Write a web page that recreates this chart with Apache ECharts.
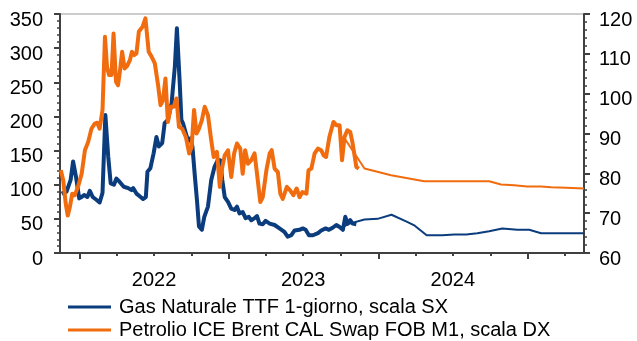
<!DOCTYPE html>
<html>
<head>
<meta charset="utf-8">
<script src="https://cdn.jsdelivr.net/npm/echarts@6/dist/echarts.min.js"></script>
<style>
  html, body { margin: 0; padding: 0; background: #fff; }
  #chart { width: 637px; height: 341px; }
</style>
</head>
<body>
<div id="chart"></div>
<script>
// Gas Naturale TTF 1-giorno (EUR/MWh, left scale): daily history
const gasDates = ['2021-11-17','2021-11-29','2021-12-09','2021-12-15','2021-12-22','2021-12-30','2022-01-05','2022-01-11','2022-01-19','2022-01-25','2022-02-01','2022-02-10','2022-02-18','2022-02-25','2022-03-04','2022-03-11','2022-03-17','2022-03-25','2022-03-31','2022-04-08','2022-04-18','2022-04-29','2022-05-07','2022-05-11','2022-05-19','2022-05-27','2022-06-04','2022-06-11','2022-06-15','2022-06-22','2022-06-30','2022-07-07','2022-07-13','2022-07-21','2022-07-27','2022-08-04','2022-08-13','2022-08-21','2022-08-26','2022-09-02','2022-09-06','2022-09-10','2022-09-17','2022-09-22','2022-09-28','2022-10-03','2022-10-09','2022-10-14','2022-10-19','2022-10-26','2022-11-01','2022-11-10','2022-11-18','2022-11-26','2022-12-04','2022-12-10','2022-12-15','2022-12-21','2022-12-29','2023-01-06','2023-01-14','2023-01-20','2023-01-26','2023-02-03','2023-02-10','2023-02-18','2023-02-24','2023-03-04','2023-03-10','2023-03-16','2023-03-24','2023-03-31','2023-04-10','2023-04-22','2023-05-04','2023-05-16','2023-05-24','2023-06-02','2023-06-10','2023-06-22','2023-06-30','2023-07-07','2023-07-15','2023-07-25','2023-08-06','2023-08-14','2023-08-25','2023-09-02','2023-09-11','2023-09-20','2023-09-28','2023-10-06','2023-10-12','2023-10-18','2023-10-24','2023-10-30','2023-11-08'];
const gasValues = [87,90,107,134,112,80,82,85,82,91,82,78,74,88,202,141,102,100,109,104,97,95,92,95,87,83,79,82,119,124,146,170,156,161,190,195,219,273,329,248,195,190,175,165,168,156,112,78,39,34,53,68,107,126,136,136,107,82,75,65,63,68,58,60,51,53,48,51,54,43,42,47,43,41,36,31,24,26,33,34,36,34,26,26,29,33,36,34,37,41,38,34,53,43,48,43,42];

// Gas forward curve
const gasFwdDates = ['2023-10-05','2023-10-22','2023-11-28','2023-12-30','2024-02-02','2024-03-10','2024-03-30','2024-04-28','2024-06-05','2024-07-05','2024-08-03','2024-08-30','2024-09-28','2024-10-30','2024-12-06','2025-01-04','2025-02-02','2025-02-22','2025-05-18'];
const gasFwdValues = [38,43,49,50,56,46,40,26,26,27,27,29,32,36,34,34,29,29,29];

// Petrolio ICE Brent CAL Swap FOB M1 (USD/barile, right scale): history
const brentDates = ['2021-11-15','2021-11-21','2021-11-27','2021-12-02','2021-12-07','2021-12-13','2021-12-19','2021-12-27','2022-01-05','2022-01-13','2022-01-21','2022-01-29','2022-02-06','2022-02-12','2022-02-18','2022-02-25','2022-03-03','2022-03-08','2022-03-13','2022-03-19','2022-03-24','2022-03-30','2022-04-04','2022-04-08','2022-04-14','2022-04-20','2022-04-26','2022-05-03','2022-05-08','2022-05-14','2022-05-19','2022-05-25','2022-06-03','2022-06-10','2022-06-18','2022-06-25','2022-07-03','2022-07-11','2022-07-17','2022-07-23','2022-07-29','2022-08-04','2022-08-11','2022-08-18','2022-08-25','2022-08-31','2022-09-08','2022-09-17','2022-09-25','2022-10-01','2022-10-07','2022-10-13','2022-10-19','2022-10-26','2022-11-02','2022-11-10','2022-11-18','2022-11-24','2022-12-02','2022-12-09','2022-12-15','2022-12-21','2022-12-29','2023-01-06','2023-01-13','2023-01-20','2023-01-28','2023-02-03','2023-02-09','2023-02-16','2023-02-24','2023-03-04','2023-03-10','2023-03-18','2023-03-24','2023-04-02','2023-04-10','2023-04-15','2023-04-22','2023-04-30','2023-05-06','2023-05-12','2023-05-22','2023-05-30','2023-06-07','2023-06-15','2023-06-22','2023-06-29','2023-07-09','2023-07-14','2023-07-21','2023-07-29','2023-08-06','2023-08-14','2023-08-20','2023-08-26','2023-09-03','2023-09-13','2023-09-20','2023-09-28','2023-10-04','2023-10-10','2023-10-17','2023-10-24','2023-10-30','2023-11-08','2023-11-14'];
const brentValues = [80.8,78.2,72.4,69.4,71.5,74.9,74.5,76.6,79.9,85.8,87.9,91.2,92.5,92.7,91.2,95.9,114.3,106.7,104.7,104.7,115.1,103,102.1,105.1,110.5,106.3,106.9,108.4,110.5,109.7,110.1,115.6,116.8,118.9,110.5,109.3,107.6,102.1,97.1,98.4,103.8,92.9,96.7,96.7,98.8,91.7,91.2,89.1,85,86.6,95.9,90,91.2,93.3,96.7,94.6,88.3,84.1,85.4,76.6,81.6,84.5,85.8,79.1,85,87.5,86.2,79.9,85.8,82.4,83.3,85,79.9,72.8,74,80.8,85,85.8,81.2,80.3,74.9,73.6,76.6,75.7,74.5,76.2,74,75.3,74.9,80.8,81.2,85,86.2,85.8,84.5,84.1,89.1,92.9,92.1,92.1,83.3,89.1,90.8,90.4,87.5,81.6,81.2];

// Brent forward curve
const brentFwdDates = ['2023-10-10','2023-11-28','2024-02-01','2024-04-22','2024-09-28','2024-10-27','2024-11-28','2024-12-30','2025-02-02','2025-02-27','2025-04-05','2025-05-18'];
const brentFwdValues = [88.8,81.2,79.5,78.0,78.0,77.2,77.0,76.7,76.7,76.5,76.4,76.2];

// Time axis: year boundaries, quarter boundaries, year labels
const axisStart = '2021-11-13';
const axisEnd = '2025-05-18';
const yearTicks = ['2022-01-01','2023-01-01','2024-01-01','2025-01-01'];
const quarterTicks = ['2022-04-01','2022-07-01','2022-10-01','2023-04-01','2023-07-01','2023-10-01','2024-04-01','2024-07-01','2024-10-01','2025-04-01'];
const yearLabelDates = ['2022-07-01','2023-07-01','2024-07-01'];
const yearLabels = ['2022','2023','2024'];

const seriesNames = ['Gas Naturale TTF 1-giorno, scala SX', 'Petrolio ICE Brent CAL Swap FOB M1, scala DX'];

const BLUE = '#0b3c7d';
const ORANGE = '#f06c0e';
const AXIS = '#404040';
const FONT = "'Liberation Sans', Arial, sans-serif";

const ts = (d) => Date.parse(d + 'T00:00:00Z');
function pairs(dates, values) {
  return dates.map((d, i) => [ts(d), values[i]]);
}
const labelTs = yearLabelDates.map(ts);

const chart = echarts.init(document.getElementById('chart'), null, { renderer: 'canvas' });

// y labels sit slightly below their tick
const yLabel = { fontSize: 20, color: '#000', fontFamily: FONT, verticalAlign: 'top', lineHeight: 12 };
const xRange = { min: ts(axisStart), max: ts(axisEnd) };

function legendRow(name, top) {
  return {
    data: [name],
    orient: 'vertical',
    left: 68,
    top: top,
    padding: 0,
    icon: 'rect',
    itemWidth: 43,
    itemHeight: 3,
    itemStyle: { borderWidth: 0 },
    textStyle: { fontSize: 20, color: '#000', fontFamily: FONT, lineHeight: 20, padding: [0, 0, 0, 3] }
  };
}

chart.setOption({
  animation: false,
  backgroundColor: '#fff',
  grid: { left: 60, right: 53, top: 14, bottom: 88, show: true, borderColor: '#9a9a9a', borderWidth: 1, backgroundColor: 'transparent' },
  legend: [legendRow(seriesNames[0], 297), legendRow(seriesNames[1], 320)],
  xAxis: [
    Object.assign({
      type: 'value',
      axisLine: { show: true, onZero: false, lineStyle: { color: AXIS, width: 2 } },
      axisTick: { show: true, customValues: yearTicks.map(ts), length: 6, lineStyle: { color: AXIS, width: 2 } },
      axisLabel: {
        show: true,
        customValues: labelTs,
        margin: 17,
        fontSize: 20,
        color: '#000',
        fontFamily: FONT,
        formatter: (v) => {
          const i = labelTs.indexOf(v);
          return i >= 0 ? yearLabels[i] : '';
        }
      },
      splitLine: { show: false }
    }, xRange),
    Object.assign({
      type: 'value',
      position: 'bottom',
      axisLine: { show: false, onZero: false },
      axisTick: { show: true, customValues: quarterTicks.map(ts), length: 3, lineStyle: { color: AXIS, width: 2 } },
      axisLabel: { show: false },
      splitLine: { show: false }
    }, xRange)
  ],
  yAxis: [
    {
      type: 'value',
      min: 0,
      max: 350,
      interval: 50,
      position: 'left',
      axisLine: { show: true, lineStyle: { color: AXIS, width: 2 } },
      axisTick: { show: true, length: 6, lineStyle: { color: AXIS, width: 2 } },
      minorTick: { show: true, splitNumber: 5, length: 3, lineStyle: { color: AXIS, width: 1.5 } },
      axisLabel: Object.assign({ margin: 17 }, yLabel),
      splitLine: { show: false }
    },
    {
      type: 'value',
      min: 60,
      max: 120,
      interval: 10,
      position: 'right',
      axisLine: { show: true, lineStyle: { color: AXIS, width: 2 } },
      axisTick: { show: true, length: 6, lineStyle: { color: AXIS, width: 2 } },
      minorTick: { show: true, splitNumber: 5, length: 3, lineStyle: { color: AXIS, width: 1.5 } },
      axisLabel: Object.assign({ margin: 15 }, yLabel),
      splitLine: { show: false }
    }
  ],
  series: [
    {
      name: seriesNames[0], type: 'line', xAxisIndex: 0, yAxisIndex: 0,
      data: pairs(gasFwdDates, gasFwdValues), showSymbol: false, symbol: 'none',
      lineStyle: { color: BLUE, width: 2 }, itemStyle: { color: BLUE }, z: 2
    },
    {
      name: seriesNames[0], type: 'line', xAxisIndex: 0, yAxisIndex: 0,
      data: pairs(gasDates, gasValues), showSymbol: false, symbol: 'none',
      lineStyle: { color: BLUE, width: 4, join: 'round' }, itemStyle: { color: BLUE }, z: 3
    },
    {
      name: seriesNames[1], type: 'line', xAxisIndex: 0, yAxisIndex: 1,
      data: pairs(brentFwdDates, brentFwdValues), showSymbol: false, symbol: 'none',
      lineStyle: { color: ORANGE, width: 2 }, itemStyle: { color: ORANGE }, z: 4
    },
    {
      name: seriesNames[1], type: 'line', xAxisIndex: 0, yAxisIndex: 1,
      data: pairs(brentDates, brentValues), showSymbol: false, symbol: 'none',
      lineStyle: { color: ORANGE, width: 4, join: 'round' }, itemStyle: { color: ORANGE }, z: 5
    }
  ]
});
</script>
</body>
</html>
